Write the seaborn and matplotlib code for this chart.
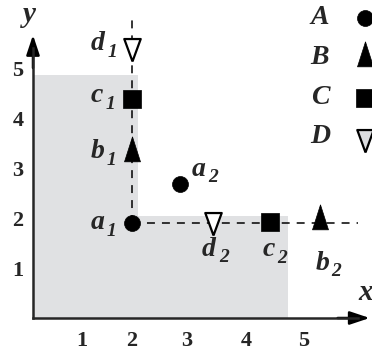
import numpy as np
import matplotlib
matplotlib.use("Agg")
import matplotlib.pyplot as plt
import seaborn as sns

# ---- data -------------------------------------------------------------
series = ["A", "B", "C", "D"]
a_x = [2.0, 2.88]
a_y = [1.90, 2.69]
b_x = [2.0, 5.30]
b_y = [3.30, 1.95]
c_x = [2.0, 4.42]
c_y = [4.38, 1.92]
d_x = [2.0, 3.44]
d_y = [5.45, 1.97]
point_names = {"A": "a", "B": "b", "C": "c", "D": "d"}
subscripts = ["1", "2"]

# shaded region (outline of the grey staircase)
shade_x = [0, 0, 2.11, 2.11, 4.73, 4.73]
shade_y = [0, 4.86, 4.86, 2.04, 2.04, 0]

# dashed guide lines through a1
guide_top = 6.06
guide_right = 5.95

tick_vals = [1, 2, 3, 4, 5]
tick_labels = ["1", "2", "3", "4", "5"]

# ---- style ------------------------------------------------------------
sns.set_style("white")
plt.rcParams["font.family"] = ["Liberation Serif", "DejaVu Serif"]

W, H, DPI = 372, 354, 100
fig = plt.figure(figsize=(W / DPI, H / DPI), dpi=DPI)
ax = fig.add_axes([0, 0, 1, 1])

# the drawn x axis is not evenly spaced: piecewise-linear scale
x_anchor = [-1, 0, 1, 2, 3, 4, 5, 6, 7]
x_pixel = [-17, 33, 81.7, 132, 186.7, 246, 303.3, 360.6, 417.9]


def fwd(v):
    return np.interp(v, x_anchor, x_pixel)


def inv(p):
    return np.interp(p, x_pixel, x_anchor)


ax.set_xscale("function", functions=(fwd, inv))
ax.set_xlim(-0.66, 6.2)
ax.set_ylim(-0.72, 6.36)

# grey region
ax.fill(shade_x, shade_y, color="#e0e1e3", lw=0, zorder=0)

# dashed guides
dash = (0, (5.2, 4.6))
ax.plot([a_x[0], a_x[0]], [a_y[0], guide_top], color="black", lw=1.1, ls=dash, zorder=1)
ax.plot([a_x[0], guide_right], [a_y[0], a_y[0]], color="black", lw=1.1, ls=dash, zorder=1)

# markers
up_tri = [(0, 1), (-0.48, -0.5), (0.48, -0.5), (0, 1)]
down_tri = [(0, -1), (-0.55, 0.5), (0.55, 0.5), (0, -1)]
styles = {
    "A": dict(marker="o", s=132, color="black", edgecolor="black", linewidth=0.5),
    "B": dict(marker=up_tri, s=576, color="black", edgecolor="black", linewidth=0.5),
    "C": dict(marker="s", s=159, color="black", edgecolor="black", linewidth=0.5),
    "D": dict(marker=down_tri, s=462, color="white", edgecolor="black", linewidth=1.6),
}
coords = {"A": (a_x, a_y), "B": (b_x, b_y), "C": (c_x, c_y), "D": (d_x, d_y)}
for key in series:
    xs, ys = coords[key]
    sns.scatterplot(x=xs, y=ys, ax=ax, zorder=3, legend=False, **styles[key])

# point labels: letter (left edge, baseline) offset in pixels from the marker,
# subscript placed right after the letter and a little lower
label_offsets = {
    "A": [(-41, -6), (12, 8)],
    "B": [(-41, -5), (-5, -49)],
    "C": [(-41, -3), (-7.5, -34)],
    "D": [(-41, -4.5), (-11, -36)],
}
letter_width = {"a": 15, "b": 15, "c": 14, "d": 16}
for key in series:
    xs, ys = coords[key]
    name = point_names[key]
    for i in range(2):
        dx, dy = label_offsets[key][i]
        ax.annotate(name, (xs[i], ys[i]), xytext=(dx, dy), textcoords="offset pixels",
                    ha="left", va="baseline", fontsize=20, fontweight="bold",
                    fontstyle="italic", zorder=4)
        ax.annotate(subscripts[i], (xs[i], ys[i]),
                    xytext=(dx + letter_width[name] + 1, dy - 7),
                    textcoords="offset pixels", ha="left", va="baseline",
                    fontsize=14, fontweight="bold", fontstyle="italic", zorder=4)

# axes with arrow heads
for side in ["top", "right"]:
    ax.spines[side].set_visible(False)
ax.spines["left"].set_position(("data", 0))
ax.spines["bottom"].set_position(("data", 0))
ax.spines["left"].set_bounds(0, 5.4)
ax.spines["bottom"].set_bounds(0, 5.95)
for side in ["left", "bottom"]:
    ax.spines[side].set_linewidth(1.8)
    ax.spines[side].set_zorder(5)

arrow = dict(arrowstyle="-|>,head_length=0.6,head_width=0.2", mutation_scale=20,
             lw=1.8, color="black", shrinkA=0, shrinkB=0)
ax.annotate("", xy=(0, 5.66), xytext=(0, 5.0), arrowprops=arrow, zorder=5)
ax.annotate("", xy=(6.16, 0), xytext=(5.6, 0), arrowprops=arrow, zorder=5)

ax.set_xticks(tick_vals, tick_labels, fontweight="bold")
ax.set_yticks(tick_vals, tick_labels, fontweight="bold")
ax.minorticks_off()
ax.tick_params(axis="x", direction="in", length=8.5, width=1.3, labelsize=16, pad=9.5)
ax.tick_params(axis="y", direction="in", length=8, width=1.3, labelsize=16, pad=7)
ax.grid(False)

# axis names
fig.text(29 / W, 1 - 14 / H, "y", fontsize=21, fontweight="bold", fontstyle="italic",
         ha="center", va="center")
fig.text(366 / W, 1 - 292 / H, "x", fontsize=21, fontweight="bold", fontstyle="italic",
         ha="center", va="center")

# key: letter followed by its marker
key_rows = [18, 58, 98, 137]
for key, row in zip(series, key_rows):
    fig.text(320 / W, 1 - row / H, key, fontsize=20, fontweight="bold",
             fontstyle="italic", ha="center", va="center")
    st = dict(styles[key])
    if key == "D":
        st["color"] = "#dcdde0"
    ax.scatter([365 / W], [1 - row / H], transform=fig.transFigure, clip_on=False,
               zorder=6, **st)

fig.savefig("out.png", dpi=DPI)
